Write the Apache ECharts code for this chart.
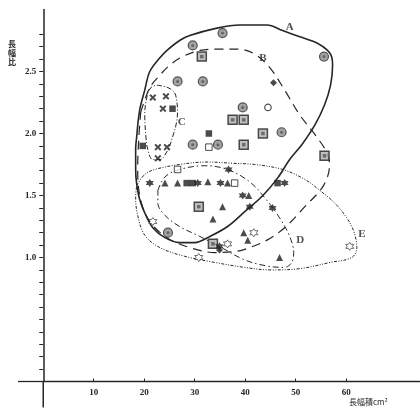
<!DOCTYPE html>
<html><head><meta charset="utf-8">
<script src="https://cdn.jsdelivr.net/npm/echarts@6/dist/echarts.min.js"></script>
<style>html,body{margin:0;padding:0;background:#fff}#c{width:420px;height:410px}</style>
</head><body><div id="c"></div>
<script>
// ---- data (x: 長幅積 cm², y: 長幅比) ----
const xTickValues = [10, 20, 30, 40, 50, 60];
const yLabelValues = [1.0, 1.5, 2.0, 2.5];
const yTickValues = [0.1,0.2,0.3,0.4,0.5,0.6,0.7,0.8,0.9,1.0,1.1,1.2,1.3,1.4,1.5,1.6,1.7,1.8,1.9,2.0,2.1,2.2,2.3,2.4,2.5,2.6,2.7,2.8];
// parts of the axis lines that run past the origin (data units)
const xAxisOverhang = [[-5, 0], [0, 0]];
const yAxisOverhang = [[0, 0], [0, -0.21]];

const circleDot = [[35.5,2.81],[29.6,2.71],[26.6,2.42],[31.6,2.42],[39.5,2.21],[55.6,2.62],[47.2,2.01],[29.6,1.91],[34.6,1.91],[24.7,1.20]];
const boxDot = [[31.4,2.62],[37.5,2.11],[39.7,2.11],[43.5,2.00],[39.7,1.91],[55.7,1.82],[30.8,1.41],[33.6,1.11]];
const square = [[25.6,2.20],[32.8,2.00],[19.7,1.90],[28.4,1.60],[29.6,1.60],[46.4,1.60]];
const openSquare = [[32.8,1.89],[37.9,1.60],[26.6,1.71]];
const openCircle = [[44.5,2.21]];
const diamond = [[45.6,2.41],[34.9,1.06]];
const cross = [[21.7,2.29],[24.3,2.30],[23.7,2.20],[22.7,1.89],[24.5,1.89],[22.7,1.80]];
const triangle = [[24.1,1.60],[26.6,1.60],[32.6,1.61],[36.5,1.60],[40.7,1.50],[35.5,1.41],[33.6,1.31],[39.7,1.20],[40.5,1.14],[46.8,1.00]];
const starFilled = [[36.7,1.71],[21.1,1.60],[30.6,1.60],[35.1,1.60],[39.5,1.50],[40.9,1.41],[47.8,1.60],[45.4,1.40],[34.9,1.09]];
const starOpen = [[21.7,1.29],[41.7,1.20],[36.5,1.11],[30.8,1.00],[60.7,1.09]];

const regionA = [[18.5,1.97],[19.1,2.19],[20.1,2.35],[21.1,2.50],[23.1,2.61],[24.5,2.67],[27.0,2.75],[29.0,2.79],[34.4,2.85],[38.9,2.875],[44.3,2.875],[47.4,2.83],[50.8,2.78],[54.2,2.73],[56.3,2.67],[57.1,2.62],[57.3,2.55],[56.9,2.39],[55.7,2.23],[53.8,2.07],[51.2,1.91],[48.8,1.79],[46.4,1.64],[43.5,1.50],[39.9,1.37],[36.5,1.25],[33.0,1.17],[30.0,1.12],[27.0,1.12],[24.1,1.16],[21.7,1.24],[20.1,1.36],[18.9,1.50],[18.3,1.71],[18.3,1.87],[18.5,1.97]];
const regionB = [[19.3,2.17],[21.1,2.37],[23.1,2.47],[25.0,2.55],[27.6,2.62],[31.0,2.67],[34.4,2.68],[38.5,2.68],[41.9,2.64],[44.9,2.53],[47.8,2.35],[50.8,2.15],[54.2,1.97],[56.1,1.85],[56.7,1.75],[55.5,1.58],[51.8,1.41],[47.8,1.24],[44.3,1.14],[40.9,1.08],[38.3,1.05],[34.0,1.04],[29.0,1.08],[24.5,1.16],[21.1,1.29],[19.3,1.46],[18.7,1.71],[18.9,1.95],[19.3,2.17]];
const regionC = [[22.5,2.39],[24.7,2.37],[26.0,2.33],[26.4,2.27],[26.6,2.19],[26.4,2.09],[25.6,1.97],[24.7,1.87],[23.1,1.79],[21.7,1.79],[20.7,1.87],[20.3,1.99],[20.1,2.15],[20.5,2.29],[21.3,2.37],[22.5,2.39]];
const regionD = [[22.7,1.54],[24.1,1.65],[27.0,1.71],[32.0,1.74],[36.5,1.71],[40.9,1.61],[43.9,1.48],[46.8,1.32],[48.8,1.17],[49.6,1.04],[49.2,0.96],[47.8,0.92],[44.5,0.93],[39.9,0.98],[35.3,1.08],[31.0,1.17],[27.0,1.25],[24.1,1.34],[22.7,1.44],[22.7,1.54]];
const regionE = [[18.5,1.58],[20.1,1.67],[22.1,1.71],[27.0,1.75],[32.4,1.77],[37.5,1.76],[41.9,1.75],[47.4,1.71],[51.8,1.63],[54.8,1.54],[57.7,1.44],[60.1,1.32],[61.5,1.21],[62.1,1.08],[61.1,1.00],[56.8,0.96],[50.8,0.91],[44.9,0.90],[39.9,0.92],[34.0,0.96],[28.0,1.01],[23.1,1.08],[20.1,1.18],[18.7,1.34],[18.3,1.48],[18.5,1.58]];

const regionNames = ['A', 'B', 'C', 'D', 'E'];
const regionLabelPos = [[48.8,2.86],[43.5,2.61],[27.4,2.09],[50.9,1.14],[63.1,1.19]];

// ---- chart ----
const INK = '#262626';
const STAR = 'path://M0,-10L2.9,-5L8.66,-5L5.8,0L8.66,5L2.9,5L0,10L-2.9,5L-8.66,5L-5.8,0L-8.66,-5L-2.9,-5Z';
const XMARK = 'path://M0,2L2,0L5,3L8,0L10,2L7,5L10,8L8,10L5,7L2,10L0,8L3,5Z';

function pts(data, symbol, size, style, z) {
  return { type: 'scatter', data: data, symbol: symbol, symbolSize: size, itemStyle: style, z: z || 5, silent: true };
}
function region(data, type, width) {
  return { type: 'line', data: data, smooth: 0.35, symbol: 'none', showSymbol: false, z: 3, silent: true,
    lineStyle: { color: INK, width: width, type: type } };
}

const chart = echarts.init(document.getElementById('c'), null, { renderer: 'canvas' });
chart.setOption({
  animation: false,
  backgroundColor: '#fff',
  grid: { left: 43.25, top: 9.5, width: 376.2, height: 372, containLabel: false, outerBoundsMode: 'none' },
  xAxis: {
    type: 'value', min: 0, max: 74.5,
    axisLine: { onZero: false, lineStyle: { color: INK, width: 1.3 } },
    axisTick: { show: true, inside: true, length: 3, customValues: xTickValues, lineStyle: { color: INK } },
    axisLabel: { customValues: xTickValues, margin: 7, color: INK, fontFamily: 'Liberation Serif', fontWeight: 'bold', fontSize: 9 },
    splitLine: { show: false }
  },
  yAxis: {
    type: 'value', min: 0, max: 3.0,
    axisLine: { onZero: false, lineStyle: { color: INK, width: 1.5 } },
    axisTick: { show: true, length: 4, customValues: yTickValues, lineStyle: { color: INK } },
    axisLabel: { customValues: yLabelValues, margin: 7, color: INK, fontFamily: 'Liberation Serif', fontWeight: 'bold', fontSize: 9,
      formatter: function (v) { return v.toFixed(1); } },
    splitLine: { show: false }
  },
  graphic: [
    { type: 'text', left: 8, top: 39, style: { text: '長\n幅\n比', fill: INK, font: 'bold 8px "Noto Sans CJK JP"', lineHeight: 9 } },
    { type: 'text', left: 349, top: 398, style: { text: '長幅積cm²', fill: INK, font: '8px "Noto Sans CJK JP"' } }
  ],
  series: [
    region(regionA, 'solid', 1.6),
    region(regionB, [9, 6], 1.2),
    region(regionC, [5, 2, 1, 2], 1.0),
    region(regionD, [6, 3, 1.5, 3], 1.0),
    region(regionE, [3, 1.5, 1, 1.5, 1, 1.5], 1.0),
    pts(circleDot, 'circle', 9, { color: '#8c8c8c', borderColor: '#333', borderWidth: 1.2 }),
    pts(circleDot, 'circle', 3, { color: '#555' }, 6),
    pts(boxDot, 'rect', 9, { color: '#b0b0b0', borderColor: '#222', borderWidth: 1.5 }),
    pts(boxDot, 'rect', 3.5, { color: '#555' }, 6),
    pts(square, 'rect', 6.5, { color: '#1e1e1e' }),
    pts(openSquare, 'rect', 6.5, { color: '#fff', borderColor: '#222', borderWidth: 1 }),
    pts(openCircle, 'circle', 6.5, { color: '#fff', borderColor: '#222', borderWidth: 1.2 }),
    pts(diamond, 'diamond', 7, { color: '#1e1e1e' }),
    pts(cross, XMARK, 7, { color: '#1e1e1e' }),
    pts(triangle, 'triangle', 7, { color: '#1e1e1e' }),
    pts(starFilled, STAR, 8, { color: '#1e1e1e' }),
    pts(starOpen, STAR, 8, { color: '#fff', borderColor: '#333', borderWidth: 0.9 }),
    {
      type: 'scatter', silent: true, z: 7, symbolSize: 1, itemStyle: { color: 'rgba(0,0,0,0)' },
      data: regionNames.map(function (n, i) { return { name: n, value: regionLabelPos[i] }; }),
      label: { show: true, position: 'inside', formatter: '{b}', color: INK,
        fontFamily: 'Liberation Serif', fontWeight: 'bold', fontSize: 11 }
    }
  ]
});

// axis-line overhangs past the origin, positioned through the chart's own scales
function toPx(p) { return chart.convertToPixel({ gridIndex: 0 }, p); }
const xa = toPx(xAxisOverhang[0]), xb = toPx(xAxisOverhang[1]);
const ya = toPx(yAxisOverhang[0]), yb = toPx(yAxisOverhang[1]);
chart.setOption({
  graphic: [
    { type: 'text', left: 8, top: 39, style: { text: '長\n幅\n比', fill: INK, font: 'bold 8px "Noto Sans CJK JP"', lineHeight: 9 } },
    { type: 'text', left: 349, top: 398, style: { text: '長幅積cm²', fill: INK, font: '8px "Noto Sans CJK JP"' } },
    { type: 'line', z: 10, silent: true, shape: { x1: xa[0], y1: xa[1], x2: xb[0], y2: xb[1] }, style: { stroke: INK, lineWidth: 1.3 } },
    { type: 'line', z: 10, silent: true, shape: { x1: ya[0], y1: ya[1], x2: yb[0], y2: yb[1] }, style: { stroke: INK, lineWidth: 1.5 } }
  ]
}, { replaceMerge: ['graphic'] });
</script></body></html>
